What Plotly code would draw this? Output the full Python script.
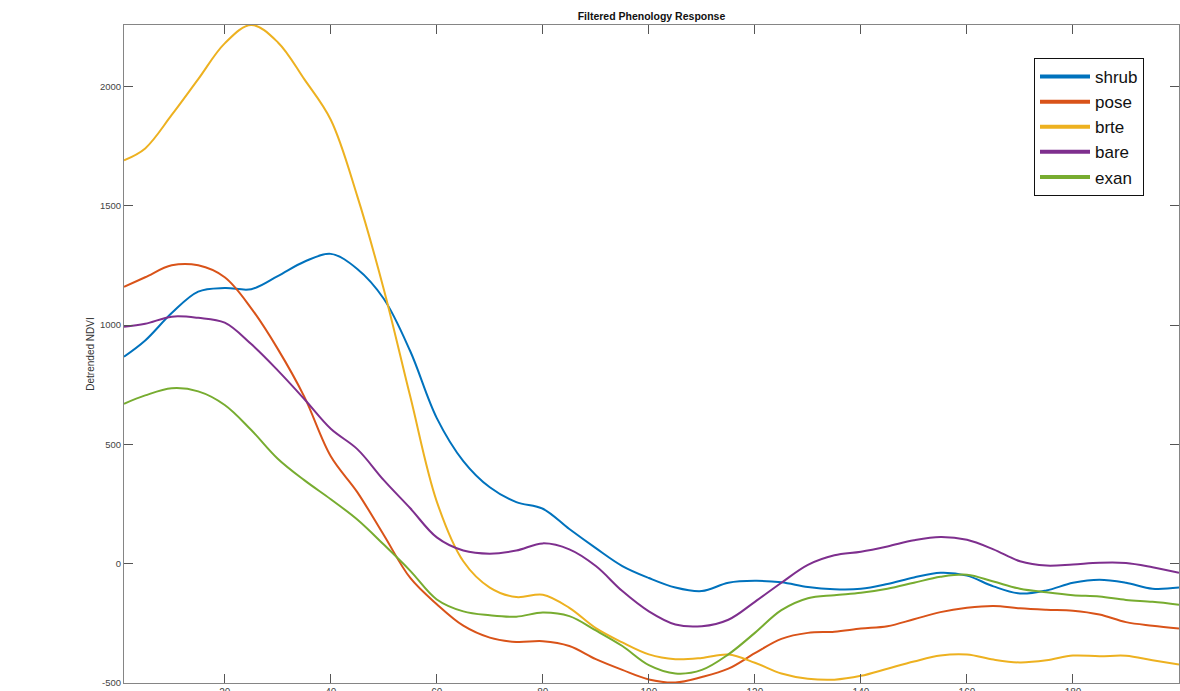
import plotly.graph_objects as go

# x positions (sample index)
x_vals = [1, 5, 10, 15, 20, 25, 30, 35, 40, 45, 50, 55, 60, 65, 70, 75, 80, 85, 90, 95, 100,
          105, 110, 115, 120, 125, 130, 135, 140, 145, 150, 155, 160, 165, 170, 175, 180, 185, 190, 195, 200]

shrub = [867, 935, 1050, 1140, 1155, 1150, 1205, 1265, 1298, 1235, 1110, 890, 610, 430, 320, 258, 230, 145, 65, -10, -60,
         -100, -115, -80, -72, -78, -98, -107, -105, -85, -58, -38, -50, -95, -125, -112, -80, -67, -80, -105, -100]
pose = [1160, 1200, 1250, 1250, 1200, 1070, 900, 700, 450, 300, 120, -60, -170, -260, -310, -328, -325, -345, -400, -445, -485,
        -498, -475, -440, -375, -315, -290, -285, -272, -262, -233, -203, -185, -177, -187, -193, -197, -213, -245, -260, -272]
brte = [1690, 1740, 1880, 2030, 2180, 2257, 2185, 2030, 1860, 1540, 1150, 700, 260, 10, -100, -140, -130, -185, -270, -330, -380,
        -400, -395, -381, -415, -460, -482, -486, -470, -440, -410, -385, -381, -402, -414, -405, -385, -388, -386, -405, -423]
bare = [993, 1005, 1035, 1030, 1010, 920, 810, 690, 565, 480, 350, 232, 110, 55, 42, 55, 85, 60, -10, -115, -200,
        -255, -262, -235, -160, -80, -5, 35, 50, 72, 98, 112, 100, 60, 10, -8, -3, 4, 3, -15, -38]
exan = [670, 705, 735, 722, 665, 560, 440, 350, 270, 185, 80, -30, -150, -200, -216, -222, -205, -220, -280, -345, -425,
        -460, -445, -380, -290, -195, -145, -132, -122, -105, -80, -55, -46, -75, -105, -120, -132, -138, -152, -160, -172]

series_names = ["shrub", "pose", "brte", "bare", "exan"]
series_vals = [shrub, pose, brte, bare, exan]
colors = ["#0072BD", "#D95319", "#EDB120", "#7E2F8E", "#77AC30"]

x_ticks = [20, 40, 60, 80, 100, 120, 140, 160, 180, 200]
y_ticks = [-500, 0, 500, 1000, 1500, 2000]

FONT = "Arial, Liberation Sans, Helvetica, sans-serif"

W, H = 1180, 691
ML, MT, MR, MB = 124, 25, 1, 8

fig = go.Figure()
for name, vals, col in zip(series_names, series_vals, colors):
    fig.add_trace(go.Scatter(x=x_vals, y=vals, mode="lines", name=name,
                             line=dict(color=col, width=2, shape="spline", smoothing=1.0),
                             showlegend=False))
# legend entries (thicker lines as in the reference legend)
for name, col in zip(series_names, colors):
    fig.add_trace(go.Scatter(x=[None], y=[None], mode="lines", name=name,
                             line=dict(color=col, width=4), showlegend=True))

axis_common = dict(showline=True, linecolor="#858585", linewidth=1, mirror="ticks",
                   ticks="inside", ticklen=9, tickcolor="#555555", tickwidth=1,
                   showgrid=False, zeroline=False, automargin=False)

plot_w = W - ML - MR
plot_h = H - MT - MB

fig.update_layout(
    width=W, height=H,
    margin=dict(l=ML, r=MR, t=MT, b=MB),
    paper_bgcolor="white", plot_bgcolor="white",
    font=dict(family=FONT, color="#333333"),
    title=dict(text="<b>Filtered Phenology Response</b>", x=(ML + plot_w / 2) / W, xanchor="center",
               y=1 - 16 / H, yanchor="middle", yref="container",
               font=dict(size=10.5, color="#111111", family=FONT)),
    xaxis=dict(range=[1, 200], tickvals=x_ticks, ticktext=[str(v) for v in x_ticks],
               tickfont=dict(size=10, color="#444444"), **axis_common),
    yaxis=dict(range=[-500, 2257], tickvals=y_ticks, ticktext=[str(v) for v in y_ticks],
               tickfont=dict(size=9.5, color="#444444"),
               title=dict(text="Detrended NDVI", font=dict(size=10, color="#333333"), standoff=3),
               **axis_common),
    legend=dict(x=(1034 - ML) / plot_w, y=1 - (58 - MT) / plot_h, xanchor="left", yanchor="top",
                bgcolor="white", bordercolor="#111111", borderwidth=1,
                font=dict(size=17, color="#111111", family=FONT),
                itemwidth=50, tracegroupgap=0),
)

fig.write_html("out.html", config={"displayModeBar": False},
               post_script="document.body.style.margin='0';document.body.style.overflow='hidden';")
